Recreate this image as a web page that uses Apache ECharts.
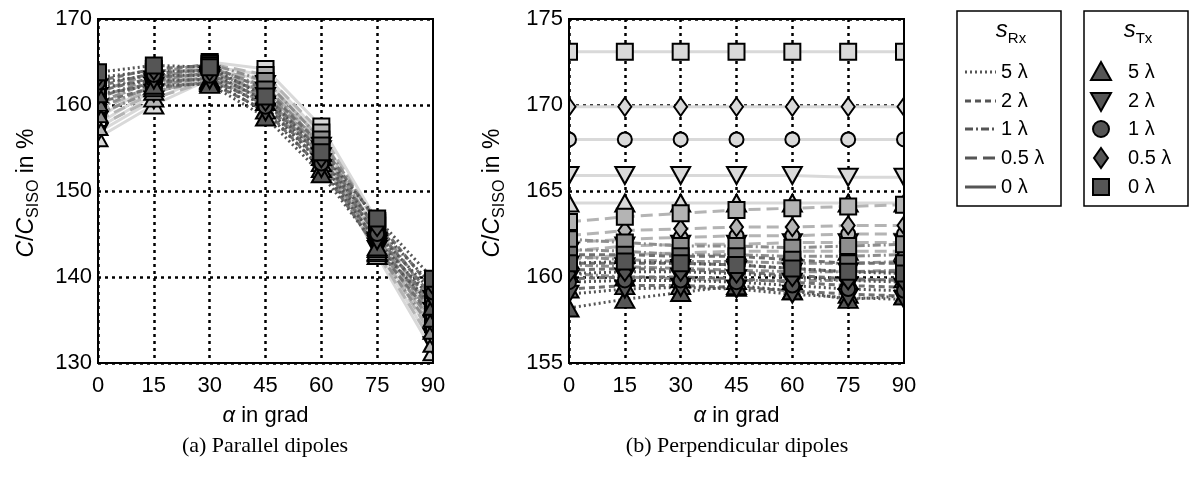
<!DOCTYPE html>
<html><head><meta charset="utf-8">
<script src="https://cdn.jsdelivr.net/npm/echarts@6/dist/echarts.min.js"></script>
<style>html,body{margin:0;padding:0;background:#fff}#chart{width:1197px;height:477px}</style>
</head><body><div id="chart"></div>
<script>
// Rotation angle alpha (grad)
const angles = [0, 15, 30, 45, 60, 75, 90];
const yTicksPar = [130, 140, 150, 160, 170];
const yTicksPerp = [155, 160, 165, 170, 175];
const sRxLabels = ['5 λ', '2 λ', '1 λ', '0.5 λ', '0 λ'];
const sTxLabels = ['5 λ', '2 λ', '1 λ', '0.5 λ', '0 λ'];

// C/C_SISO in % -- parallel dipoles; one array per s_Rx, rows ordered by s_Tx (5, 2, 1, 0.5, 0 λ)
const par_rx5 = [
  [161.3, 162.3, 162.4, 158.6, 152.0, 143.5, 136.6],
  [162.0, 162.9, 162.9, 159.2, 152.6, 144.2, 137.4],
  [162.6, 163.5, 163.4, 159.8, 153.2, 145.0, 138.2],
  [163.2, 164.0, 163.9, 160.4, 153.8, 145.8, 139.0],
  [163.8, 164.6, 164.4, 161.0, 154.5, 146.8, 139.8]];
const par_rx2 = [
  [160.3, 162.0, 162.6, 159.4, 152.6, 143.3, 135.2],
  [161.0, 162.6, 163.1, 160.0, 153.3, 144.0, 136.0],
  [161.6, 163.2, 163.6, 160.6, 154.0, 144.8, 136.8],
  [162.2, 163.7, 164.1, 161.2, 154.6, 145.5, 137.6],
  [162.8, 164.2, 164.6, 161.8, 155.3, 146.5, 138.5]];
const par_rx1 = [
  [159.0, 161.6, 162.8, 160.4, 153.3, 143.0, 133.8],
  [159.7, 162.2, 163.3, 161.0, 154.0, 143.8, 134.5],
  [160.3, 162.8, 163.8, 161.6, 154.8, 144.6, 135.2],
  [160.8, 163.2, 164.3, 162.2, 155.3, 145.3, 136.0],
  [161.5, 163.8, 164.8, 162.8, 156.0, 146.3, 137.0]];
const par_rx05 = [
  [157.5, 160.8, 162.8, 161.0, 154.0, 142.8, 132.3],
  [158.2, 161.4, 163.3, 161.6, 154.8, 143.5, 133.0],
  [158.8, 162.0, 163.8, 162.2, 155.5, 144.2, 133.8],
  [159.3, 162.4, 164.2, 162.8, 156.0, 145.0, 134.5],
  [160.0, 163.0, 164.8, 163.5, 156.8, 146.0, 135.5]];
const par_rx0 = [
  [156.2, 160.0, 163.0, 161.8, 154.5, 142.5, 131.3],
  [156.8, 160.6, 163.5, 162.4, 155.2, 143.2, 132.0],
  [157.3, 161.2, 164.0, 163.0, 156.0, 144.0, 132.8],
  [157.8, 161.8, 164.5, 163.5, 156.5, 145.0, 133.5],
  [158.5, 162.5, 165.0, 164.2, 157.5, 146.5, 134.5]];

// C/C_SISO in % -- perpendicular dipoles; same layout
const perp_rx5 = [
  [158.2, 158.7, 159.1, 159.5, 159.2, 158.7, 158.9],
  [159.0, 159.3, 159.4, 159.3, 159.0, 158.8, 158.7],
  [159.7, 159.8, 159.8, 159.7, 159.5, 159.3, 159.2],
  [160.2, 160.3, 160.3, 160.2, 160.0, 159.8, 159.7],
  [160.8, 160.9, 160.8, 160.7, 160.5, 160.3, 160.2]];
const perp_rx2 = [
  [159.3, 159.5, 159.5, 159.4, 159.2, 159.0, 158.9],
  [159.9, 160.0, 160.0, 159.9, 159.7, 159.5, 159.4],
  [160.4, 160.5, 160.4, 160.3, 160.1, 159.9, 159.8],
  [160.8, 160.8, 160.8, 160.7, 160.5, 160.3, 160.3],
  [161.3, 161.3, 161.2, 161.2, 161.0, 160.8, 160.8]];
const perp_rx1 = [
  [160.2, 160.0, 159.9, 159.8, 159.8, 159.8, 159.9],
  [160.7, 160.6, 160.5, 160.4, 160.3, 160.3, 160.4],
  [161.2, 161.0, 160.9, 160.9, 160.8, 160.8, 160.9],
  [161.6, 161.5, 161.3, 161.3, 161.2, 161.2, 161.3],
  [162.2, 162.0, 161.8, 161.8, 161.7, 161.8, 161.9]];
const perp_rx05 = [
  [161.0, 161.3, 161.4, 161.5, 161.5, 161.5, 161.5],
  [161.5, 161.8, 161.9, 161.9, 162.0, 162.0, 162.0],
  [162.0, 162.2, 162.3, 162.4, 162.4, 162.5, 162.5],
  [162.4, 162.7, 162.8, 162.9, 162.9, 163.0, 163.0],
  [163.2, 163.5, 163.7, 163.9, 164.0, 164.1, 164.2]];
const perp_rx0 = [
  [164.3, 164.3, 164.3, 164.3, 164.3, 164.3, 164.3],
  [165.9, 165.9, 165.9, 165.9, 165.9, 165.8, 165.8],
  [168.0, 168.0, 168.0, 168.0, 168.0, 168.0, 168.0],
  [169.9, 169.9, 169.9, 169.9, 169.9, 169.9, 169.9],
  [173.1, 173.1, 173.1, 173.1, 173.1, 173.1, 173.1]];

const FAM = '"Liberation Sans", Arial, Helvetica, sans-serif';
// styles per s_Rx (5, 2, 1, 0.5, 0 λ): gray level and dash pattern
const rxColors = ['#555555', '#707070', '#8e8e8e', '#b4b4b4', '#d9d9d9'];
const rxDash = [[2, 3], [6, 4], [8, 3, 2, 3], [12, 6], 'solid'];
// markers per s_Tx (5, 2, 1, 0.5, 0 λ)
const txSymbols = [
  {symbol: 'triangle', size: [19, 17], rotate: 0},
  {symbol: 'triangle', size: [19, 17], rotate: 180},
  {symbol: 'circle', size: 14, rotate: 0},
  {symbol: 'diamond', size: [13, 18], rotate: 0},
  {symbol: 'rect', size: [16, 16], rotate: 0}];

const parSets = [par_rx5, par_rx2, par_rx1, par_rx05, par_rx0];
const perpSets = [perp_rx5, perp_rx2, perp_rx1, perp_rx05, perp_rx0];

function buildSeries(sets, xIdx, yIdx) {
  const out = [];
  // lightest (0 λ) first so the darker groups sit on top
  for (let r = sets.length - 1; r >= 0; r--) {
    sets[r].forEach((vals, t) => {
      const m = txSymbols[t];
      out.push({
        type: 'line', xAxisIndex: xIdx, yAxisIndex: yIdx,
        data: vals.map((v, i) => [angles[i], v]),
        symbol: m.symbol, symbolSize: m.size, symbolRotate: m.rotate,
        showAllSymbol: true, z: 2,
        lineStyle: {color: rxColors[r], width: 3, type: rxDash[r], cap: 'butt'},
        itemStyle: {color: rxColors[r], borderColor: '#000', borderWidth: 2},
        emphasis: {disabled: true},
        silent: true
      });
    });
  }
  return out;
}

const ctx = document.createElement('canvas').getContext('2d');
function tw(text, font) { ctx.font = font; return ctx.measureText(text).width; }

// text made of pieces (italic letters, subscripts) laid out along one baseline
function pieced(parts, cx, cy, rotation) {
  const fonts = parts.map(p => `${p.italic ? 'italic ' : ''}${p.size}px ${FAM}`);
  const widths = parts.map((p, i) => tw(p.t, fonts[i]));
  const total = widths.reduce((a, b) => a + b, 0);
  let x = -total / 2;
  const children = parts.map((p, i) => {
    const el = {type: 'text', x: x, y: p.dy || 0, z: 20,
      style: {text: p.t, font: fonts[i], fill: '#000', align: 'left', verticalAlign: 'middle',
              textAlign: 'left', textVerticalAlign: 'middle'}};
    x += widths[i];
    return el;
  });
  return {type: 'group', x: cx, y: cy, rotation: rotation || 0, children};
}

function yLabel(cx, cy) {
  return pieced([
    {t: 'C', italic: true, size: 23},
    {t: '/', size: 23},
    {t: 'C', italic: true, size: 23},
    {t: 'SISO', size: 16, dy: 7},
    {t: ' in %', size: 23}], cx, cy, Math.PI / 2);
}

// white margins just outside each plot frame, so marks sitting on the frame are cut at it
function frameMasks() {
  const m = [];
  [[84, 97], [434, 450], [553, 568], [905, 921]].forEach(([x0, x1]) => {
    m.push({type: 'rect', z: 5, silent: true, shape: {x: x0, y: 8, width: x1 - x0, height: 362},
      style: {fill: '#fff'}});
  });
  return m;
}

function legendBoxes() {
  const g = [];
  const rows = [72, 101, 129, 158, 187];
  const lc = '#555555';
  // s_Rx box: line styles
  g.push({type: 'rect', shape: {x: 957, y: 11, width: 104, height: 195}, style: {fill: '#fff', stroke: '#000', lineWidth: 1.5}});
  g.push(pieced([{t: 's', italic: true, size: 24}, {t: 'Rx', size: 15, dy: 9}], 1011, 30));
  rows.forEach((y, i) => {
    g.push({type: 'line', shape: {x1: 965, y1: y, x2: 996, y2: y},
      style: {stroke: lc, lineWidth: 3, lineDash: rxDash[i] === 'solid' ? null : rxDash[i]}});
    g.push({type: 'text', x: 1001, y: y, style: {text: sRxLabels[i], font: `20px ${FAM}`, fill: '#000',
      align: 'left', verticalAlign: 'middle', textAlign: 'left', textVerticalAlign: 'middle'}});
  });
  // s_Tx box: markers
  g.push({type: 'rect', shape: {x: 1084, y: 11, width: 104, height: 195}, style: {fill: '#fff', stroke: '#000', lineWidth: 1.5}});
  g.push(pieced([{t: 's', italic: true, size: 24}, {t: 'Tx', size: 15, dy: 9}], 1138, 30));
  const mx = 1101;
  const ms = {fill: lc, stroke: '#000', lineWidth: 2};
  g.push({type: 'polygon', shape: {points: [[mx - 10, rows[0] + 8], [mx + 10, rows[0] + 8], [mx, rows[0] - 10]]}, style: ms});
  g.push({type: 'polygon', shape: {points: [[mx - 10, rows[1] - 8], [mx + 10, rows[1] - 8], [mx, rows[1] + 10]]}, style: ms});
  g.push({type: 'circle', shape: {cx: mx, cy: rows[2], r: 8}, style: ms});
  g.push({type: 'polygon', shape: {points: [[mx, rows[3] - 10], [mx + 7, rows[3]], [mx, rows[3] + 10], [mx - 7, rows[3]]]}, style: ms});
  g.push({type: 'rect', shape: {x: mx - 8, y: rows[4] - 8, width: 16, height: 16}, style: ms});
  rows.forEach((y, i) => {
    g.push({type: 'text', x: 1128, y: y, style: {text: sTxLabels[i], font: `20px ${FAM}`, fill: '#000',
      align: 'left', verticalAlign: 'middle', textAlign: 'left', textVerticalAlign: 'middle'}});
  });
  return g;
}

function caption(text, cx, cy) {
  return {type: 'text', x: cx, y: cy, style: {text, font: `22px "Liberation Serif", "Times New Roman", serif`, fill: '#000',
    align: 'center', verticalAlign: 'middle', textAlign: 'center', textVerticalAlign: 'middle'}};
}

const gridLine = {color: '#000', width: 2.5, type: [3, 4]};
const gridStyle = {show: true, borderColor: '#000', borderWidth: 2, backgroundColor: 'transparent', z: 10};
function xAxis(gridIndex) {
  return {
    type: 'value', gridIndex, min: 0, max: 90, interval: 15,
    axisLine: {show: false}, axisTick: {show: false},
    axisLabel: {fontFamily: FAM, fontSize: 22, color: '#000', margin: 12},
    splitLine: {show: true, lineStyle: gridLine},
    name: '{i|α} in grad', nameLocation: 'middle', nameGap: 42,
    nameTextStyle: {fontFamily: FAM, fontSize: 22, color: '#000', rich: {i: {fontStyle: 'italic', fontSize: 22, fontFamily: FAM}}}
  };
}
// tick-label axis (drawn above the frame masks)
function yAxisLabels(gridIndex, ticks, interval) {
  return {
    type: 'value', gridIndex, min: ticks[0], max: ticks[ticks.length - 1], interval, position: 'left', z: 10,
    axisLine: {show: false}, axisTick: {show: false},
    axisLabel: {fontFamily: FAM, fontSize: 22, color: '#000', margin: 6},
    splitLine: {show: false}
  };
}
// same scale, carrying only the dotted grid lines below the data
function yAxisGrid(gridIndex, ticks, interval) {
  return {
    type: 'value', gridIndex, min: ticks[0], max: ticks[ticks.length - 1], interval, position: 'left', z: 0,
    axisLine: {show: false}, axisTick: {show: false}, axisLabel: {show: false},
    splitLine: {show: true, lineStyle: gridLine}
  };
}

const chart = echarts.init(document.getElementById('chart'), null, {renderer: 'canvas'});
chart.setOption({
  animation: false,
  backgroundColor: '#fff',
  grid: [
    Object.assign({left: 98, top: 19, width: 335, height: 344}, gridStyle),
    Object.assign({left: 569, top: 19, width: 335, height: 344}, gridStyle)],
  xAxis: [xAxis(0), xAxis(1)],
  yAxis: [yAxisLabels(0, yTicksPar, 10), yAxisGrid(0, yTicksPar, 10),
          yAxisLabels(1, yTicksPerp, 5), yAxisGrid(1, yTicksPerp, 5)],
  series: buildSeries(parSets, 0, 0).concat(buildSeries(perpSets, 1, 2)),
  graphic: frameMasks().concat([
    yLabel(27, 193), yLabel(493, 193),
    caption('(a) Parallel dipoles', 265, 446),
    caption('(b) Perpendicular dipoles', 737, 446)
  ]).concat(legendBoxes())
});
</script></body></html>
